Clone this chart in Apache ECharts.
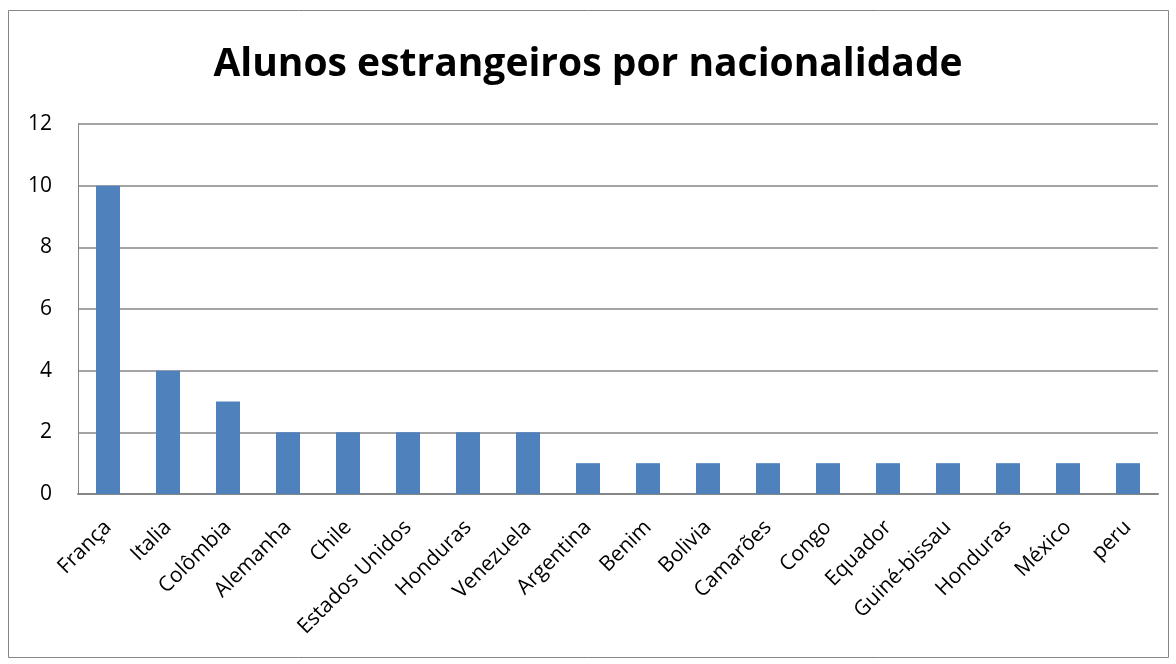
<!DOCTYPE html>
<html><head><meta charset="utf-8">
<script src="https://cdn.jsdelivr.net/npm/echarts@6/dist/echarts.min.js"></script>
<style>html,body{margin:0;padding:0;background:#fff}#c{width:1176px;height:664px}</style>
</head><body><div id="c"></div>
<script>
const categories = ["França","Italia","Colômbia","Alemanha","Chile","Estados Unidos","Honduras","Venezuela","Argentina","Benim","Bolivia","Camarões","Congo","Equador","Guiné-bissau","Honduras","México","peru"];
const values = [10,4,3,2,2,2,2,2,1,1,1,1,1,1,1,1,1,1];
const titleText = "Alunos estrangeiros por nacionalidade";
const chart = echarts.init(document.getElementById('c'), null, {renderer:'canvas'});
const font = "'Open Sans', 'Noto Sans', sans-serif";
chart.setOption({
  animation:false,
  title:{text:titleText,left:'center',top:40,textStyle:{fontFamily:font,fontSize:39,fontWeight:'bold',color:'#000'}},
  graphic:[{type:'rect',shape:{x:8.5,y:10.5,width:1160,height:647},style:{fill:null,stroke:'#868686',lineWidth:1}}],
  grid:{left:78,right:18,top:124,bottom:170},
  xAxis:{type:'category',data:categories,axisTick:{show:false},
    axisLine:{lineStyle:{color:'#868686',width:2}},
    axisLabel:{rotate:45,interval:0,fontFamily:font,fontSize:21,color:'#000',margin:30}},
  yAxis:{type:'value',min:0,max:12,interval:2,
    axisLine:{show:true,lineStyle:{color:'#868686',width:1}},
    axisTick:{show:false},
    splitLine:{lineStyle:{color:'#868686',width:1.5}},
    axisLabel:{fontFamily:font,fontSize:21,color:'#000',margin:26}},
  series:[{type:'bar',data:values,barWidth:'40%',itemStyle:{color:'#4F81BD'}}]
});
</script></body></html>
